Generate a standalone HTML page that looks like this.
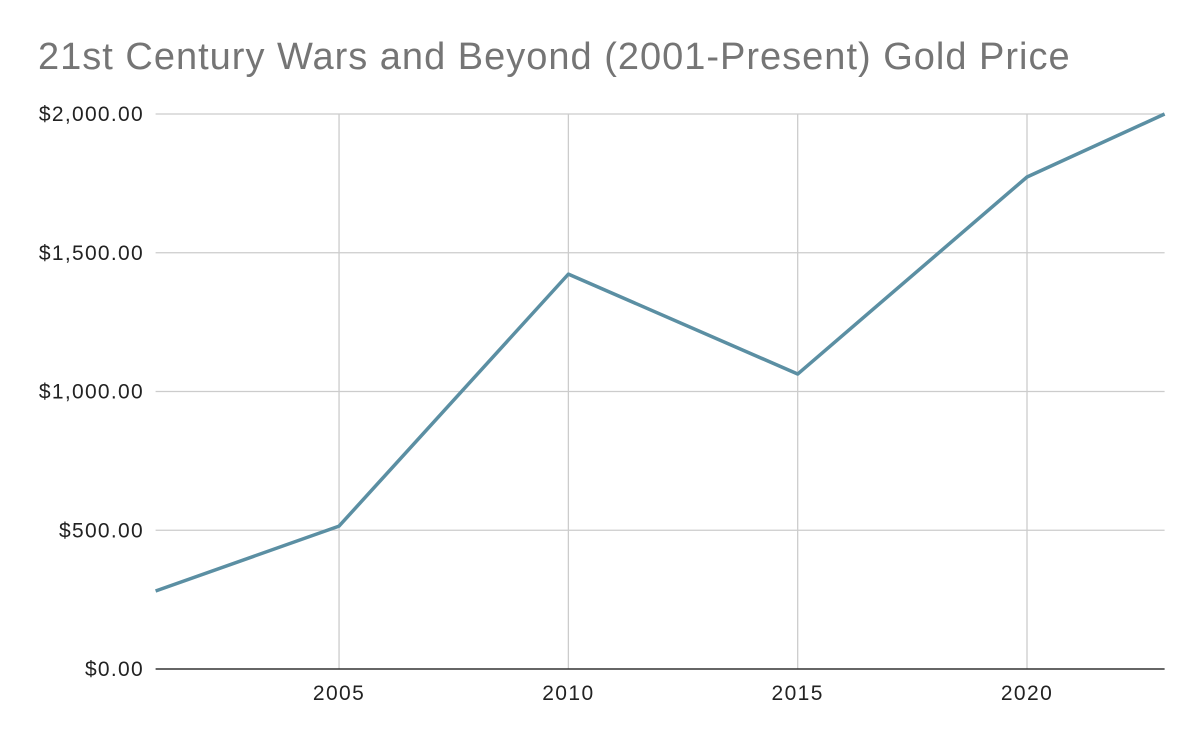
<!DOCTYPE html>
<html><head><meta charset="utf-8"><style>
body{margin:0;background:#fff;}
svg{display:block;font-family:"Liberation Sans",Arial,sans-serif;}
</style></head><body>
<svg id="chart" width="1202" height="742">
<text x="38" y="69" font-size="38" letter-spacing="1.0" fill="#757575">21st Century Wars and Beyond (2001-Present) Gold Price</text>
<g id="grid"></g><g id="axes"></g><g id="series"></g>
</svg>
<script>
const years=[2001,2005,2010,2015,2020,2023];
const prices=[281,515,1423,1063,1773,2000];
const yTicks=[0,500,1000,1500,2000];
const yTickLabels=["$0.00","$500.00","$1,000.00","$1,500.00","$2,000.00"];
const xTicks=[2005,2010,2015,2020];
const xTickLabels=["2005","2010","2015","2020"];
const X0=155.6,X1=1164.6,Y0=669,Y1=114;
const xMin=2001,xMax=2023,yMin=0,yMax=2000;
function xs(v){return X0+(v-xMin)/(xMax-xMin)*(X1-X0);}
function ys(v){return Y0-(v-yMin)/(yMax-yMin)*(Y0-Y1);}
const NS="http://www.w3.org/2000/svg";
function mk(t,a,p){const e=document.createElementNS(NS,t);for(const k in a)e.setAttribute(k,a[k]);p.appendChild(e);return e;}
const grid=document.getElementById('grid'),axes=document.getElementById('axes'),series=document.getElementById('series');
yTicks.forEach((v,i)=>{
 if(v!==0){const l=mk('line',{x1:X0,x2:X1,y1:ys(v),y2:ys(v),stroke:'#cccccc','stroke-width':1.3},grid);
 
 }
 const t=mk('text',{x:144,y:ys(v)+7,'text-anchor':'end','font-size':21,'letter-spacing':1.3,fill:'#222'},axes);
 t.textContent=yTickLabels[i];
 
 
});
xTicks.forEach((v,i)=>{
 const l=mk('line',{x1:xs(v),x2:xs(v),y1:Y1,y2:Y0,stroke:'#cccccc','stroke-width':1.3},grid);
 
 
 const t=mk('text',{x:xs(v),y:700,'text-anchor':'middle','font-size':21,'letter-spacing':1.4,fill:'#222'},axes);
 t.textContent=xTickLabels[i];
 
 
});
const ax=mk('line',{x1:X0,x2:X1,y1:Y0,y2:Y0,stroke:'#333','stroke-width':1.5},axes);


const pts=years.map((y,i)=>xs(y)+','+ys(prices[i])).join(' ');
const pl=mk('polyline',{points:pts,fill:'none',stroke:'#5b8fa3','stroke-width':3.5,'stroke-linejoin':'round'},series);


</script>
</body></html>
